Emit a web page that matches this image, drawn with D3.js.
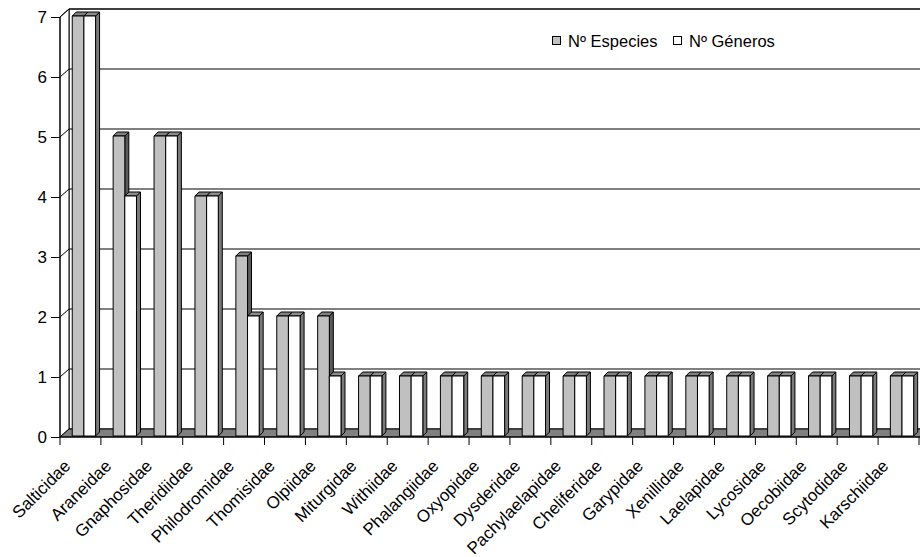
<!DOCTYPE html>
<html>
<head>
<meta charset="utf-8">
<script src="https://cdn.jsdelivr.net/npm/d3@7"></script>
<style>
  html, body { margin: 0; padding: 0; background: #fff; }
  svg { display: block; font-family: "Liberation Sans", Arial, sans-serif; }
</style>
</head>
<body>
<svg id="chart" width="920" height="557"></svg>
<script>
// Families and counts
const categories = ["Salticidae", "Araneidae", "Gnaphosidae", "Theridiidae", "Philodromidae",
  "Thomisidae", "Olpiidae", "Miturgidae", "Withiidae", "Phalangiidae", "Oxyopidae",
  "Dysderidae", "Pachylaelapidae", "Cheliferidae", "Garypidae", "Xenillidae", "Laelapidae",
  "Lycosidae", "Oecobiidae", "Scytodidae", "Karschiidae"];
const especies = [7, 5, 5, 4, 3, 2, 2, 1, 1, 1, 1, 1, 1, 1, 1, 1, 1, 1, 1, 1, 1];
const generos  = [7, 4, 5, 4, 2, 2, 1, 1, 1, 1, 1, 1, 1, 1, 1, 1, 1, 1, 1, 1, 1];
const seriesNames = ["Nº Especies", "Nº Géneros"];
const yTicks = [0, 1, 2, 3, 4, 5, 6, 7];

const series = [
  { name: seriesNames[0], values: especies, front: "#c0c0c0", topFill: "#808080", side: "#5a5a5a" },
  { name: seriesNames[1], values: generos,  front: "#ffffff", topFill: "#8c8c8c", side: "#7a7a7a" }
];

const svg = d3.select("#chart");

// Front plane geometry and 3D depth offsets
const plotLeft = 60, plotRight = 919, plotBottom = 437, plotTop = 17;
const wallDX = 9, wallDY = -8;     // depth of the walls / floor
const barDX = 4, barDY = -4;       // depth of each column

const x = d3.scaleBand().domain(categories).range([plotLeft, plotRight]).padding(0);
const y = d3.scaleLinear().domain([0, 7]).range([plotBottom, plotTop]);

const bw = x.bandwidth() * 0.285;
const gap = x.bandwidth() * 0.275;

const pts = a => a.map(p => p.join(",")).join(" ");

// Back wall
svg.append("polygon")
  .attr("points", pts([[plotLeft + wallDX, y(7) + wallDY], [plotRight + 20, y(7) + wallDY],
                       [plotRight + 20, y(0) + wallDY], [plotLeft + wallDX, y(0) + wallDY]]))
  .attr("fill", "#fff").attr("stroke", "#000").attr("stroke-width", 1);

// Side wall
svg.append("polygon")
  .attr("points", pts([[plotLeft, y(7)], [plotLeft + wallDX, y(7) + wallDY],
                       [plotLeft + wallDX, y(0) + wallDY], [plotLeft, y(0)]]))
  .attr("fill", "#fff").attr("stroke", "#000").attr("stroke-width", 1);

// Gridlines: diagonal across the side wall, then along the back wall
const grid = svg.append("g").attr("stroke", "#000").attr("stroke-width", 1).attr("fill", "none");
yTicks.filter(v => v > 0).forEach(v => {
  grid.append("polyline")
    .attr("points", pts([[plotLeft, y(v)], [plotLeft + wallDX, y(v) + wallDY], [plotRight + 20, y(v) + wallDY]]));
});

// Floor
svg.append("polygon")
  .attr("points", pts([[plotLeft, y(0)], [plotRight + 20, y(0)], [plotRight + 20 + wallDX, y(0) + wallDY],
                       [plotLeft + wallDX, y(0) + wallDY]]))
  .attr("fill", "#808080").attr("stroke", "#000").attr("stroke-width", 1);

// Columns
const bars = svg.append("g").attr("stroke", "#000").attr("stroke-width", 1).attr("stroke-linejoin", "round");
categories.forEach((c, i) => {
  series.forEach((s, j) => {
    const x0 = x(c) + gap + j * bw + 1;
    const x1 = x0 + bw;
    const yb = y(0) - 1;
    const yt = y(s.values[i]) - 1;
    // side face
    bars.append("polygon")
      .attr("points", pts([[x1, yt], [x1 + barDX, yt + barDY], [x1 + barDX, yb + barDY], [x1, yb]]))
      .attr("fill", s.side);
    // top face
    bars.append("polygon")
      .attr("points", pts([[x0, yt], [x0 + barDX, yt + barDY], [x1 + barDX, yt + barDY], [x1, yt]]))
      .attr("fill", s.topFill);
    // front face
    bars.append("rect")
      .attr("x", x0).attr("y", yt).attr("width", bw).attr("height", yb - yt)
      .attr("fill", s.front);
  });
});

// Y axis
const yAxis = svg.append("g").attr("transform", `translate(${plotLeft},0)`)
  .call(d3.axisLeft(y).tickValues(yTicks).tickFormat(d3.format("d")).tickSize(9).tickPadding(4));
yAxis.select(".domain").remove();
yAxis.selectAll("line").attr("stroke", "#000");
yAxis.selectAll("text").attr("font-size", 17).attr("fill", "#000")
  .attr("font-family", "'Liberation Sans', Arial, sans-serif");
svg.append("line").attr("x1", plotLeft).attr("x2", plotLeft).attr("y1", y(7)).attr("y2", y(0))
  .attr("stroke", "#000");

// X axis ticks at category boundaries
const xt = svg.append("g").attr("stroke", "#000");
categories.concat([null]).forEach(c => {
  const xx = c === null ? plotRight : x(c);
  xt.append("line").attr("x1", xx).attr("x2", xx).attr("y1", y(0)).attr("y2", y(0) + 8);
});
svg.append("line").attr("x1", plotLeft).attr("x2", plotRight + 20).attr("y1", y(0)).attr("y2", y(0))
  .attr("stroke", "#000");

// Rotated category labels
svg.append("g").selectAll("text").data(categories).join("text")
  .attr("transform", d => `translate(${x(d) + x.bandwidth() / 2 - 9},${y(0) + 30}) rotate(-45)`)
  .attr("text-anchor", "end")
  .attr("font-size", 17)
  .attr("fill", "#000")
  .text(d => d);

// Legend
const legend = svg.append("g").attr("font-size", 16.5);
const legendX = [552, 673];
series.forEach((s, j) => {
  legend.append("rect").attr("x", legendX[j] + 0.5).attr("y", 36.5).attr("width", 8).attr("height", 8)
    .attr("fill", s.front).attr("stroke", "#000");
  legend.append("text").attr("x", legendX[j] + 16).attr("y", 46.5).attr("fill", "#000").text(s.name);
});
</script>
</body>
</html>
